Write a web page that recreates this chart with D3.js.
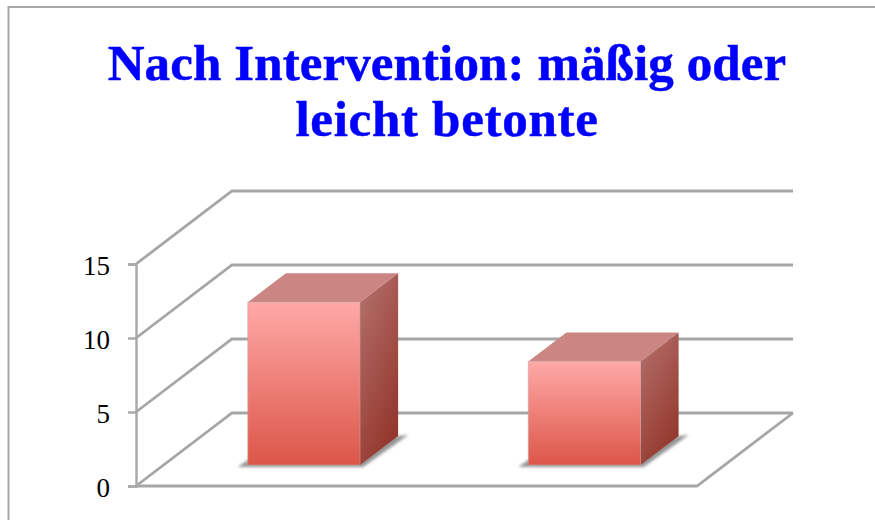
<!DOCTYPE html>
<html>
<head>
<meta charset="utf-8">
<script src="https://cdnjs.cloudflare.com/ajax/libs/d3/7.8.5/d3.min.js"></script>
<style>
  html, body { margin: 0; padding: 0; background: #fff; }
  svg { display: block; }
</style>
</head>
<body>
<svg id="chart" width="875" height="520"></svg>
<script>
const titleLines = ["Nach Intervention: mäßig oder", "leicht betonte"];
const categories = ["1", "2"];
const values = [11, 7];
const yTicks = [0, 5, 10, 15];

const svg = d3.select("#chart");
const serif = "'Liberation Serif', 'DejaVu Serif', serif";

// front plane of the 3d box, depth goes up and to the right
const x = d3.scaleBand().domain(categories).range([136, 697]).paddingInner(0.6).paddingOuter(0.3);
const y = d3.scaleLinear().domain([0, 15]).range([486, 264]);
const depthX = d3.scaleLinear().domain([0, 1]).range([0, 96]);
const depthY = d3.scaleLinear().domain([0, 1]).range([0, -73]);
const barDepth = [0.288, 0.685];

const pt = (px, py, z) => [px + depthX(z), py + depthY(z)];
const poly = pts => d3.line()(pts) + "Z";

const defs = svg.append("defs");

function gradient(id, x2, y2, stops) {
  const g = defs.append("linearGradient").attr("id", id)
    .attr("x1", "0%").attr("y1", "0%").attr("x2", x2).attr("y2", y2);
  stops.forEach(s => g.append("stop").attr("offset", s[0]).attr("stop-color", s[1]));
}
gradient("front", "0%", "100%", [["0%", "#ffa9a7"], ["100%", "#dc5648"]]);
gradient("side", "50%", "100%", [["0%", "#b5736f"], ["100%", "#95392e"]]);

defs.append("filter").attr("id", "soft")
  .attr("x", "-20%").attr("y", "-20%").attr("width", "140%").attr("height", "140%")
  .append("feGaussianBlur").attr("stdDeviation", 1.5);
defs.append("filter").attr("id", "lineBlur")
  .attr("filterUnits", "userSpaceOnUse")
  .attr("x", 0).attr("y", 0).attr("width", 875).attr("height", 520)
  .append("feGaussianBlur").attr("stdDeviation", 0.4);

// chart frame
svg.append("path")
  .attr("d", "M8.5,520V7H875")
  .attr("fill", "none").attr("stroke", "#a8a8a8").attr("stroke-width", 2);

// title
svg.append("g").selectAll("text")
  .data(titleLines)
  .join("text")
  .attr("x", 447)
  .attr("y", (d, i) => 80 + i * 56)
  .attr("text-anchor", "middle")
  .attr("fill", "#0000ff")
  .attr("stroke", "#0000ff")
  .attr("stroke-width", 0.5)
  .style("font-family", serif)
  .style("font-weight", 700)
  .style("font-size", "51px")
  .style("letter-spacing", (d, i) => (i ? "0.7px" : "0.1px"))
  .text(d => d);

// walls and floor
const grid = svg.append("g").attr("fill", "none").attr("stroke", "#a6a6a6")
  .attr("stroke-width", 2.8).attr("filter", "url(#lineBlur)");
const [x0, x1] = x.range();

yTicks.forEach(t => {
  const wall = [pt(x0, y(t), 0), pt(x0, y(t), 1), pt(x1, y(t), 1)];
  grid.append("path").attr("d", d3.line()(wall));
});
grid.append("path").attr("d", d3.line()([pt(x0, y(0), 0), pt(x1, y(0), 0), pt(x1, y(0), 1)]));

// value axis
const axis = svg.append("g")
  .attr("transform", `translate(${x0},0)`)
  .call(d3.axisLeft(y).tickValues(yTicks).tickSize(8).tickPadding(18).tickFormat(d3.format("d")));
axis.selectAll("path, line").attr("stroke", "#a8a8a8").attr("stroke-width", 2.4);
axis.selectAll("text")
  .attr("fill", "#000")
  .attr("dy", "10px")
  .style("font-family", serif)
  .style("font-size", "27px");

// bars
const bars = svg.append("g").selectAll("g")
  .data(categories.map((c, i) => ({ c, v: values[i] })))
  .join("g");

const [zA, zB] = barDepth;
const left = d => pt(x(d.c), 0, zA)[0];
const right = d => left(d) + x.bandwidth();
const base = y(0);
const frontBase = pt(0, base, zA)[1];
const backBase = pt(0, base, zB)[1];
const depthDx = depthX(zB) - depthX(zA);

// soft shadow on the floor, slipping out to the left and to the right
bars.append("path")
  .attr("d", d => poly([
    [left(d) - 10, frontBase + 2],
    [left(d), frontBase - 5],
    [right(d) + depthDx, backBase],
    [right(d) + depthDx + 10, backBase - 1],
    [right(d) + 3, frontBase + 2]
  ]))
  .attr("fill", "#959595").attr("filter", "url(#soft)");

bars.append("path")
  .attr("d", d => poly([
    [left(d), y(d.v) + depthY(zA)], [right(d), y(d.v) + depthY(zA)],
    [right(d) + depthDx, y(d.v) + depthY(zB)], [left(d) + depthDx, y(d.v) + depthY(zB)]
  ]))
  .attr("fill", "#cb8582");

bars.append("path")
  .attr("d", d => poly([
    [right(d), y(d.v) + depthY(zA)], [right(d) + depthDx, y(d.v) + depthY(zB)],
    [right(d) + depthDx, backBase], [right(d), frontBase]
  ]))
  .attr("fill", "url(#side)");

bars.append("path")
  .attr("d", d => poly([
    [left(d), y(d.v) + depthY(zA)], [right(d), y(d.v) + depthY(zA)],
    [right(d), frontBase], [left(d), frontBase]
  ]))
  .attr("fill", "url(#front)")
  .attr("stroke", "#c9a09e").attr("stroke-width", 0.6);
</script>
</body>
</html>
